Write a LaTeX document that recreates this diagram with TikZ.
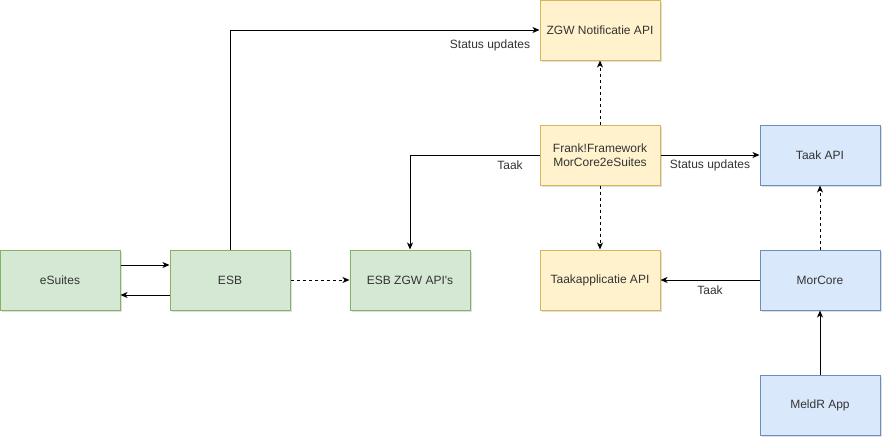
\documentclass[tikz,border=0pt]{standalone}
\usepackage{fontspec}
\setmainfont{Liberation Sans}
\usetikzlibrary{arrows.meta,shadows}
\definecolor{grfill}{HTML}{D5E8D4}
\definecolor{grline}{HTML}{82B366}
\definecolor{ylfill}{HTML}{FFF2CC}
\definecolor{ylline}{HTML}{D6B656}
\definecolor{blfill}{HTML}{DAE8FC}
\definecolor{blline}{HTML}{6C8EBF}
\definecolor{txt}{HTML}{333333}
\tikzset{
  box/.style={draw, line width=1pt, minimum width=120pt, minimum height=60pt, align=center,
    font=\fontsize{12}{14}\selectfont, text=txt, inner sep=0pt,
    drop shadow={opacity=0.25, shadow xshift=2pt, shadow yshift=-2pt}},
  greenbox/.style={box, fill=grfill, draw=grline},
  yellowbox/.style={box, fill=ylfill, draw=ylline},
  bluebox/.style={box, fill=blfill, draw=blline},
  conn/.style={line width=1pt, -{Stealth[length=7pt,width=6pt,inset=2pt]}},
  lbl/.style={font=\fontsize{12}{14}\selectfont, text=txt, fill=white, inner sep=1pt}
}
\begin{document}
\begin{tikzpicture}[x=1pt, y=-1pt]
\useasboundingbox (0, 0) rectangle (892, 447);
% boxes
\node [greenbox] (esuites) at (60, 280) {eSuites};
\node [greenbox] (esb) at (230, 280) {ESB};
\node [greenbox] (esbzgw) at (410, 280) {ESB ZGW API\textquotesingle s};
\node [yellowbox] (notif) at (600, 30) {ZGW Notificatie API};
\node [yellowbox] (frank) at (600, 155) {Frank!Framework\\MorCore2eSuites};
\node [yellowbox] (taakapp) at (600, 280) {Taakapplicatie API};
\node [bluebox] (taakapi) at (820, 155) {Taak API};
\node [bluebox] (morcore) at (820, 280) {MorCore};
\node [bluebox] (meldr) at (820, 405) {MeldR App};
% connectors
\draw [conn] ([yshift=15pt]esuites.east) -- ([yshift=15pt]esb.west);
\draw [conn] ([yshift=-15pt]esb.west) -- ([yshift=-15pt]esuites.east);
\draw [conn, dashed] (esb) -- (esbzgw);
\draw [conn] (esb.north) |- (notif.west);
\draw [conn, dashed] (frank) -- (notif);
\draw [conn] (frank.west) -| (esbzgw.north);
\draw [conn] (frank) -- (taakapi);
\draw [conn, dashed] (frank) -- (taakapp);
\draw [conn] (morcore) -- (taakapp);
\draw [conn, dashed] (morcore) -- (taakapi);
\draw [conn] (meldr) -- (morcore);
% labels
\node [lbl] (lstat1) at (490, 45) {Status updates};
\node [lbl] (ltaak1) at (510, 165) {Taak};
\node [lbl] (lstat2) at (710, 165) {Status updates};
\node [lbl] (ltaak2) at (710, 290) {Taak};
\end{tikzpicture}
\end{document}
